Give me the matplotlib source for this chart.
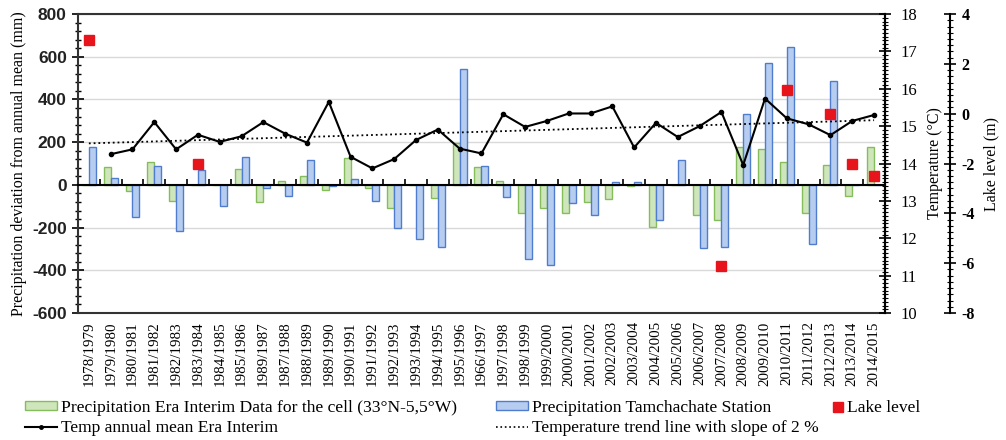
import numpy as np
from matplotlib import pyplot as plt
from matplotlib.ticker import MultipleLocator
from matplotlib.patches import Patch
from matplotlib.lines import Line2D

plt.rcParams['axes.unicode_minus'] = False

# Hydrological years (labels kept as printed)
years = ['1978/1979', '1979/1980', '1980/1981', '1981/1982', '1982/1983', '1983/1984',
         '1984/1985', '1985/1986', '1989/1987', '1987/1988', '1988/1989', '1989/1990',
         '1990/1991', '1991/1992', '1992/1993', '1993/1994', '1994/1995', '1995/1996',
         '1966/1997', '1997/1998', '1998/1999', '1999/2000', '2000/2001', '2001/2002',
         '2002/2003', '2003/2004', '2004/2005', '2005/2006', '2006/2007', '2007/2008',
         '2008/2009', '2009/2010', '2010/2011', '2011/2012', '2012/2013', '2013/2014',
         '2014/2015']

# Precipitation deviation from annual mean (mm)
precipEra = [0, 86, -27, 109, -75, 0, 0, 73, -81, 16, 42, -23,
             125, -14, -106, 0, -62, 195, 86, 20, -133, -109, -133, -81,
             -66, -5, -195, 0, -140, -164, 176, 167, 106, -133, 94, -51,
             179]
precipStation = [179, 31, -151, 90, -215, 70, -101, 129, -16, -50, 117, -5,
                 28, -75, -203, -253, -289, 543, 90, -59, -348, -374, -86, -140,
                 15, 15, -164, 117, -296, -292, 332, 569, 644, -278, 488, 0,
                 0]

# Temperature annual mean Era Interim (degC), no value for the first year
tempEra = [np.nan, 14.25, 14.38, 15.11, 14.38, 14.77, 14.58, 14.73, 15.11, 14.80, 14.56, 15.65,
           14.18, 13.87, 14.12, 14.63, 14.91, 14.40, 14.27, 15.32, 14.98, 15.14, 15.34, 15.34,
           15.53, 14.43, 15.09, 14.71, 15.00, 15.38, 13.96, 15.74, 15.21, 15.05, 14.76, 15.14,
           15.30]
trendEnds = [14.54, 15.16]   # linear trend at first and last year

# Lake level (m), only some years measured
lakeYears = ['1978/1979', '1983/1984', '2007/2008', '2010/2011', '2012/2013', '2013/2014', '2014/2015']
lakeLevel = [2.95, -2.0, -6.1, 0.97, 0.0, -2.0, -2.5]

serif = 'Liberation Serif'
x = np.arange(len(years))
barW = 0.32

fig = plt.figure(figsize=(10.06, 4.40), dpi=100)
ax = fig.add_axes([0.0775, 0.2886, 0.8022, 0.6794])

# gridlines
ax.set_axisbelow(True)
ax.yaxis.grid(True, which='major', color='#d9d9d9', linewidth=1.0)

ax.bar(x - barW/2, precipEra, width=barW, color='#cfe6bc', edgecolor='#86bd5c', linewidth=1.0, zorder=2)
ax.bar(x + barW/2, precipStation, width=barW, color='#b7cdf0', edgecolor='#4f7ccc', linewidth=1.0, zorder=2)

ax.set_xlim(-0.5, len(years) - 0.5)
ax.set_ylim(-600, 800)
ax.yaxis.set_major_locator(MultipleLocator(200))
ax.yaxis.set_minor_locator(MultipleLocator(40))
ax.tick_params(axis='y', which='major', direction='inout', length=9, width=1.2)
ax.tick_params(axis='y', which='minor', direction='inout', length=5, width=1.0)
for lab in ax.get_yticklabels():
    lab.set_fontfamily('Liberation Sans')
    lab.set_fontweight('bold')
    lab.set_fontsize(12.5)
    lab.set_color('#222222')
ax.set_xticks(x)
ax.set_xticklabels(years, rotation=90, fontfamily=serif, fontsize=10.8)
ax.tick_params(axis='x', length=0, pad=6)
ax.set_ylabel('Precipitation deviation from annual mean (mm)', fontfamily=serif, fontsize=11.5, labelpad=4)
for s in ['left', 'bottom', 'top', 'right']:
    ax.spines[s].set_linewidth(1.5)
    ax.spines[s].set_color('#333333')

# zero line with category ticks
axZero = ax.twiny()
axZero.set_xlim(ax.get_xlim())
axZero.spines['bottom'].set_position(('data', 0))
axZero.spines['bottom'].set_linewidth(1.5)
for s in ['left', 'top', 'right']:
    axZero.spines[s].set_visible(False)
axZero.xaxis.set_ticks_position('bottom')
axZero.set_xticks(x[1:] - 0.5)
axZero.set_xticklabels([])
axZero.tick_params(axis='x', direction='in', length=4, width=1.2)

# temperature axis
axT = ax.twinx()
axT.plot(x, tempEra, '-o', color='black', linewidth=1.5, markersize=3, zorder=3)
axT.plot([x[0], x[-1]], trendEnds, ':', color='black', linewidth=1.3, zorder=3)
axT.set_ylim(10, 18)
axT.yaxis.set_major_locator(MultipleLocator(1))
axT.yaxis.set_minor_locator(MultipleLocator(0.1))
axT.tick_params(axis='y', which='major', direction='inout', length=9, width=1.2, labelsize=12, pad=7)
axT.tick_params(axis='y', which='minor', direction='inout', length=4, width=0.8)
for lab in axT.get_yticklabels():
    lab.set_fontfamily(serif)
axT.set_ylabel('Temperature (°C)', fontfamily=serif, fontsize=11.5, labelpad=7)
for s in ['left', 'bottom', 'top']:
    axT.spines[s].set_visible(False)
axT.spines['right'].set_linewidth(1.5)

# lake level axis
axL = ax.twinx()
lakeX = [years.index(y) for y in lakeYears]
axL.plot(lakeX, lakeLevel, 's', color='#e8141c', markersize=7.5, zorder=4)
axL.set_ylim(-8, 4)
axL.spines['right'].set_position(('axes', 1.081))
axL.spines['right'].set_linewidth(1.5)
for s in ['left', 'bottom', 'top']:
    axL.spines[s].set_visible(False)
axL.yaxis.set_major_locator(MultipleLocator(2))
axL.yaxis.set_minor_locator(MultipleLocator(0.25))
axL.tick_params(axis='y', which='major', direction='inout', length=9, width=1.2, labelsize=11.5)
axL.tick_params(axis='y', which='minor', direction='inout', length=4, width=0.8)
for lab in axL.get_yticklabels():
    lab.set_fontfamily(serif)
    lab.set_fontweight('bold')
axL.set_ylabel('Lake level (m)', fontfamily=serif, fontsize=11.5, labelpad=6)

# legends
legTop = 1 - 400/440
legProps = dict(frameon=False, borderpad=0, borderaxespad=0, labelspacing=0.25, handlelength=1.83,
                handleheight=0.4, handletextpad=0.2, loc='upper left',
                prop={'family': serif, 'size': 12.6})
h1 = [Patch(facecolor='#cfe6bc', edgecolor='#86bd5c'),
      Line2D([], [], color='black', marker='o', markersize=2.5, linewidth=1.5)]
fig.legend(h1, ['Precipitation Era Interim Data for the cell (33°N-5,5°W)', 'Temp annual mean Era Interim'],
           bbox_to_anchor=(25/1006, legTop), **legProps)
h2 = [Patch(facecolor='#b7cdf0', edgecolor='#4f7ccc'),
      Line2D([], [], color='black', linestyle=':', linewidth=1.2)]
fig.legend(h2, ['Precipitation Tamchachate Station', 'Temperature trend line with slope of 2 %'],
           bbox_to_anchor=(496/1006, legTop), **legProps)
legProps['handlelength'] = 0.6
h3 = [Line2D([], [], color='#e8141c', marker='s', markersize=7.5, linestyle='')]
fig.legend(h3, ['Lake level'], bbox_to_anchor=(833/1006, legTop), **legProps)

fig.savefig('out.png', dpi=100)
